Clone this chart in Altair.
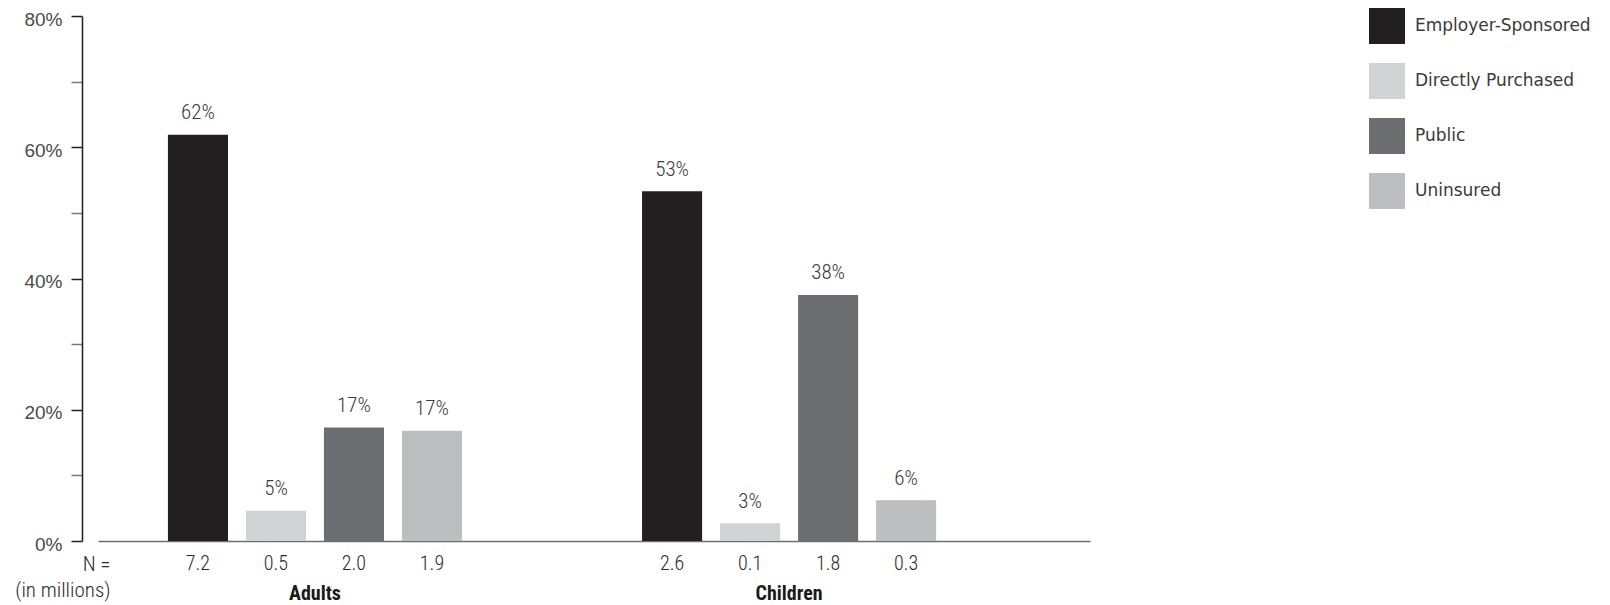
import altair as alt
import pandas as pd

groups = ["Adults", "Children"]
series = ["Employer-Sponsored", "Directly Purchased", "Public", "Uninsured"]
colors = ["#231f20", "#d1d2d4", "#6d6e71", "#bcbec0"]

adults_pct = [61.9, 4.6, 17.3, 16.8]
children_pct = [53.3, 2.7, 37.5, 6.2]
adults_lbl = ["62%", "5%", "17%", "17%"]
children_lbl = ["53%", "3%", "38%", "6%"]
adults_n = ["7.2", "0.5", "2.0", "1.9"]
children_n = ["2.6", "0.1", "1.8", "0.3"]

rows = []
for g, pcts, lbls, ns in [("Adults", adults_pct, adults_lbl, adults_n),
                          ("Children", children_pct, children_lbl, children_n)]:
    for s, p, l, n in zip(series, pcts, lbls, ns):
        rows.append({"group": g, "series": s, "value": p, "label": l, "n": n})
df = pd.DataFrame(rows)

NARROW = "Liberation Sans Narrow, Arial Narrow, Roboto Condensed, Liberation Sans"
TEXT = "#2b2b2b"

x_enc = alt.X(
    "group:N",
    sort=groups,
    scale=alt.Scale(paddingInner=0.3797, paddingOuter=0.236, align=0.3125),
    axis=alt.Axis(
        title=["N =", "(in millions)"],
        titleAlign="right",
        titleAnchor="start",
        titleX=12,
        titleY=29,
        titleBaseline="alphabetic",
        titleLineHeight=26,
        titleFont=NARROW,
        titleFontSize=21,
        titleFontWeight=300,
        titleColor=TEXT,
        ticks=False,
        labelAngle=0,
        labelFont=NARROW,
        labelFontSize=20,
        labelFontWeight="bold",
        labelColor="#1a1a1a",
        labelBaseline="alphabetic",
        labelPadding=58,
        domainColor="#6d6e71",
        domainWidth=1.5,
    ),
)
xoff = alt.XOffset("series:N", sort=series,
                   scale=alt.Scale(paddingInner=0.23, paddingOuter=0))

y_enc = alt.Y(
    "value:Q",
    scale=alt.Scale(domain=[0, 80], nice=False),
    axis=alt.Axis(
        title=None,
        values=list(range(0, 81, 10)),
        labelExpr="datum.value % 20 == 0 ? datum.value + '%' : ''",
        offset=16,
        tickSize=11,
        tickWidth=1.5,
        tickColor={"condition": {"test": "datum.value % 20 != 0", "value": "#7a7a7a"},
                   "value": "#231f20"},
        domainColor="#231f20",
        domainWidth=1.5,
        labelPadding=9,
        labelOffset=3,
        labelFont="Liberation Sans",
        labelFontSize=19,
        labelColor="#4a4a4a",
        grid=False,
    ),
)

color_enc = alt.Color(
    "series:N",
    sort=series,
    scale=alt.Scale(domain=series, range=colors),
    legend=alt.Legend(
        title=None,
        orient="none",
        legendX=1271,
        legendY=-8,
        padding=0,
        symbolType="square",
        symbolSize=1296,
        symbolStrokeWidth=0,
        symbolOpacity=1,
        rowPadding=19,
        labelOffset=10,
        labelFont="DejaVu Sans",
        labelFontSize=17,
        labelColor="#3a3a3a",
        labelLimit=400,
    ),
)

base = alt.Chart(df).encode(x=x_enc, xOffset=xoff)

bars = base.mark_bar(stroke=None).encode(y=y_enc, color=color_enc)

pct_labels = base.mark_text(
    baseline="alphabetic", dy=-15.5, font=NARROW, fontSize=21, fontWeight=300,
    color="#3a3a3a"
).encode(y="value:Q", text="label:N")

n_labels = base.mark_text(
    baseline="alphabetic", dy=29, font=NARROW, fontSize=20, fontWeight=300,
    color=TEXT
).encode(y=alt.datum(0), text="n:N")

chart = alt.layer(bars, pct_labels, n_labels).properties(
    width=992,
    height=525,
    autosize=alt.AutoSizeParams(type="none"),
    padding={"left": 90, "top": 8, "right": 500, "bottom": 62},
).configure_view(stroke=None)

chart.save("out.html", embed_options={"renderer": "svg", "actions": False})
